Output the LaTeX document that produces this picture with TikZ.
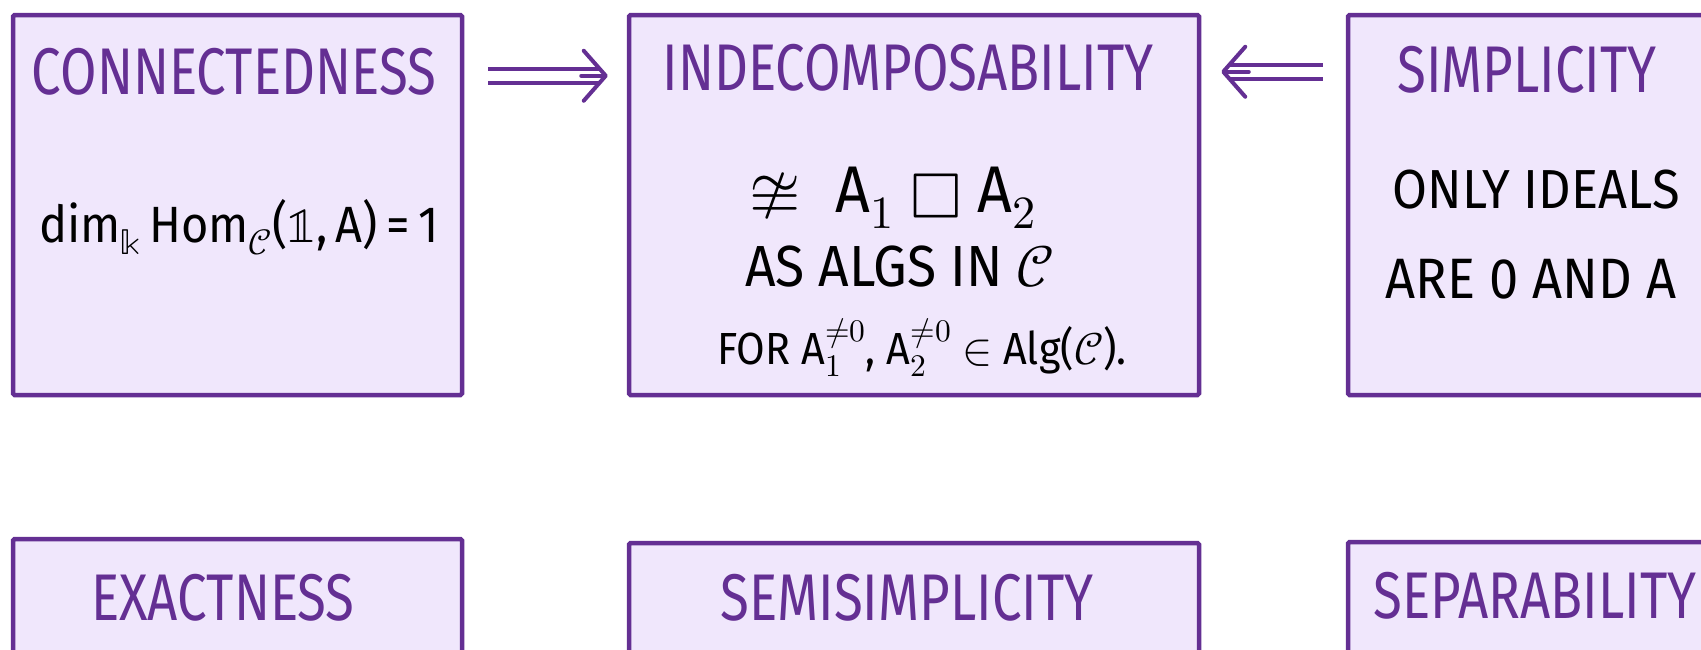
\documentclass[tikz,border=0pt]{standalone}
\usepackage{fontspec}
\usepackage{unicode-math}
\setmainfont{Fira Sans}[FakeStretch=0.92]
\newfontfamily\headfont{Fira Sans}[FakeStretch=0.8]
\usetikzlibrary{arrows.meta}

\begin{document}
\begin{tikzpicture}[x=1pt,y=-1pt]
  \definecolor{plum}{RGB}{100,47,147}
  \definecolor{lilac}{RGB}{240,231,252}
  \tikzset{
    card/.style={draw=plum, fill=lilac, line width=4.5pt, rounded corners=1.5pt, inner sep=0pt},
    head/.style={plum, font=\headfont\fontsize{66}{70}\selectfont, inner sep=0pt},
    body/.style={black, inner sep=0pt, anchor=base},
    implies/.style={plum, line width=4pt, double=white, double distance=10pt},
    barb/.style={plum, line width=4pt, line cap=round,
      -{Straight Barb[length=22pt, width=50pt, round]}}
  }

  \useasboundingbox (0,0) rectangle (1701,649);
  \clip (0,0) rectangle (1701,649);

  \foreach \name/\cx/\cy/\bw/\title/\tx/\ty in {
    conn/237.5/205/449/CONNECTEDNESS/234/72,
    indec/914/205/570/INDECOMPOSABILITY/908/68,
    simp/1572.5/205/449/SIMPLICITY/1527/70,
    exact/237.5/729/449/EXACTNESS/223/598,
    semi/914/733/570/SEMISIMPLICITY/907/598,
    sepa/1572.5/732/449/SEPARABILITY/1535/596
  } {
    \node[card, minimum width=\bw pt, minimum height=380pt] (\name) at (\cx,\cy) {};
    \node[head] (\name-title) at (\tx,\ty) {\title};
  }

  % box texts
  \node[body, font=\fontsize{51}{60}\selectfont] (conn-text) at (239,242)
    {dim$_{\Bbbk}$\,Hom$_{\mathcal{C}}$($\mathbb{1}$,\,A)\,=\,1};
  \node[body, font=\fontsize{66}{70}\selectfont] (indec-iso) at (893,212)
    {$\ncong$\; A$_1$ $\mdlgwhtsquare$ A$_2$};
  \node[body, font=\fontsize{58}{64}\selectfont] (indec-as) at (900,286)
    {AS ALGS IN $\mathcal{C}$};
  \node[body, font=\fontsize{45}{50}\selectfont] (indec-for) at (922,364)
    {FOR A$_1^{\neq 0}$, A$_2^{\neq 0}$ $\in$ Alg($\mathcal{C}$).};
  \node[body, font=\fontsize{55}{60}\selectfont] (simp-only) at (1536,208)
    {ONLY IDEALS};
  \node[body, font=\fontsize{57}{60}\selectfont] (simp-are) at (1531,298)
    {ARE 0 AND A};

  % implications: double shaft, then a barb head on the same path
  \draw[implies, shorten <=24pt, shorten >=27pt]
    ([yshift=-63pt]conn.north east) -- ([yshift=-63pt]indec.north west);
  \draw[barb, shorten <=117pt, shorten >=19pt]
    ([yshift=-63pt]conn.north east) -- ([yshift=-63pt]indec.north west);
  \draw[implies, shorten <=23pt, shorten >=28pt]
    ([yshift=-59pt]simp.north west) -- ([yshift=-59pt]indec.north east);
  \draw[barb, shorten <=97pt, shorten >=20pt]
    ([yshift=-59pt]simp.north west) -- ([yshift=-59pt]indec.north east);
\end{tikzpicture}
\end{document}
